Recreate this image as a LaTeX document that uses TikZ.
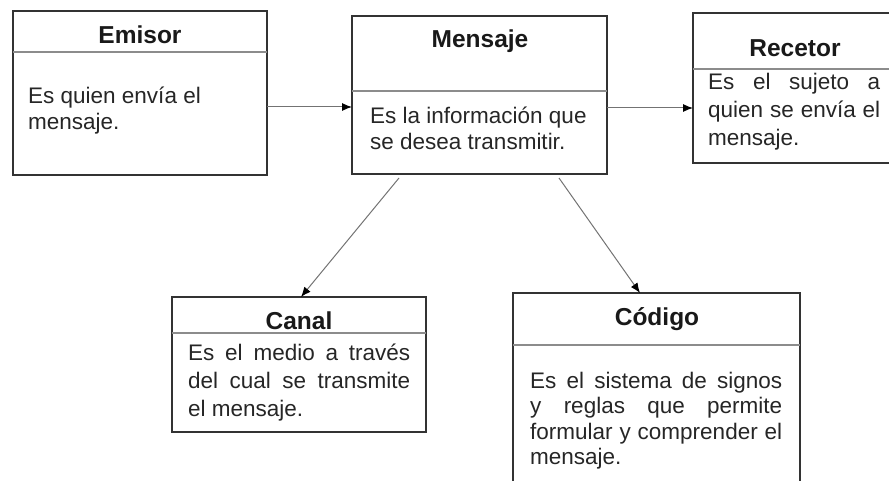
\documentclass[tikz,border=0pt]{standalone}
\usepackage{fontspec}
\setmainfont{Liberation Sans}
\usetikzlibrary{arrows.meta}
\tikzset{
  box/.style={draw=black!80, line width=1.6pt, rectangle, inner sep=0pt, outer sep=0pt},
  divider/.style={draw=black!45, line width=1.3pt},
  titletext/.style={font=\fontsize{24.5}{28}\selectfont\bfseries, text=black!90, inner sep=0pt, anchor=base},
  bodytext/.style={font=\fontsize{22.5}{#1}\selectfont, text=black!85, inner sep=0pt, anchor=base west, align=left},
  link/.style={draw=black!55, line width=1pt, -{Latex[length=10pt,width=8pt,black]}}
}
\begin{document}
\begin{tikzpicture}[x=1pt,y=-1pt]
\clip (0,0) rectangle (889,481);
% boxes
\node[box, minimum width=254pt, minimum height=164pt] (emisor) at (140,93) {};
\node[box, minimum width=255pt, minimum height=158pt] (mensaje) at (479.5,95) {};
\node[box, minimum width=217pt, minimum height=150pt] (recetor) at (801.5,88) {};
\node[box, minimum width=254pt, minimum height=135pt] (canal) at (299,364.5) {};
\node[box, minimum width=287pt, minimum height=207pt] (codigo) at (656.5,396.5) {};
% dividers
\draw[divider] (emisor.west |- 0,52) -- (emisor.east |- 0,52);
\draw[divider] (mensaje.west |- 0,91) -- (mensaje.east |- 0,91);
\draw[divider] (recetor.west |- 0,69) -- (recetor.east |- 0,69);
\draw[divider] (canal.west |- 0,333) -- (canal.east |- 0,333);
\draw[divider] (codigo.west |- 0,345) -- (codigo.east |- 0,345);
% titles
\node[titletext] (emisorT) at (140,44) {Emisor};
\node[titletext] (mensajeT) at (480,48) {Mensaje};
\node[titletext] (recetorT) at (795,57) {Recetor};
\node[titletext] (canalT) at (299,329) {Canal};
\node[titletext] (codigoT) at (657,325) {Código};
% bodies (anchored at the baseline of the last line)
\node[bodytext=26pt] (emisorB) at (28,130) {Es quien envía el\\mensaje.};
\node[bodytext=26pt] (mensajeB) at (370,150) {Es la información que\\se desea transmitir.};
\node[bodytext=28pt] (recetorB) at (708,146) {\makebox[172pt][s]{Es el sujeto a}\\\makebox[172pt][s]{quien se envía el}\\mensaje.};
\node[bodytext=28pt] (canalB) at (188,416) {\makebox[222pt][s]{Es el medio a través}\\\makebox[222pt][s]{del cual se transmite}\\el mensaje.};
\node[bodytext=25.5pt] (codigoB) at (530,464.5) {\makebox[252pt][s]{Es el sistema de signos}\\\makebox[252pt][s]{y reglas que permite}\\\makebox[252pt][s]{formular y comprender el}\\mensaje.};
% connectors
\draw[link] ([yshift=-14pt]emisor.east) -- ([yshift=-12pt]mensaje.west);
\draw[link] ([yshift=-13pt]mensaje.east) -- ([yshift=-20pt]recetor.west);
\draw[link] ([xshift=-80.5pt,yshift=-4pt]mensaje.south) -- ([xshift=2pt]canal.north);
\draw[link] ([xshift=79.5pt,yshift=-4pt]mensaje.south) -- ([xshift=-16.5pt]codigo.north);
\end{tikzpicture}
\end{document}
